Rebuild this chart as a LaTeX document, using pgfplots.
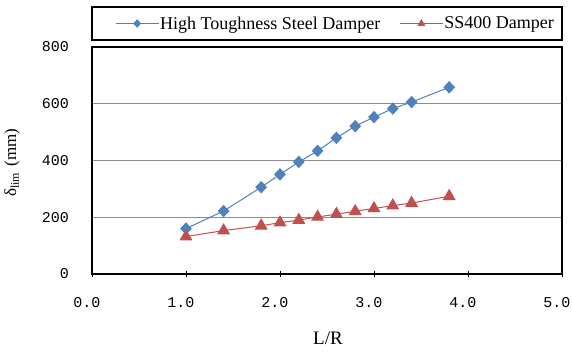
\documentclass[border=0pt]{standalone}
\usepackage{pgfplots}
\pgfplotsset{compat=1.18}
\usepackage{fontspec}
\setmainfont{Liberation Serif}
\newfontfamily\tickfont{Liberation Mono}
\definecolor{cblue}{HTML}{4F81BD}
\definecolor{cred}{HTML}{C0504D}
\begin{document}
\begin{tikzpicture}[x=1pt,y=1pt]
\path[use as bounding box] (0,0) rectangle (572,354);
\begin{axis}[
  at={(92pt,80pt)}, anchor=south west,
  scale only axis, width=470pt, height=227pt,
  xmin=0, xmax=5, ymin=0, ymax=800,
  xtick={0,1,2,3,4,5}, xticklabels={0.0,1.0,2.0,3.0,4.0,5.0},
  ytick={0,200,400,600,800}, yticklabels={0,200,400,600,800},
  xtick pos=bottom, ytick pos=left,
  ymajorgrids, grid style={black!45, line width=1pt},
  axis line style={line width=2pt},
  x tick style={black, line width=1pt}, tick align=center, major tick length=6pt,
  y tick style={draw=none},
  xticklabel style={font=\tickfont\fontsize{15}{15}\selectfont, anchor=center, yshift=-26pt, xshift=-5pt},
  yticklabel style={font=\tickfont\fontsize{15}{15}\selectfont, anchor=east, inner sep=0pt, xshift=-20pt},
  xlabel={L/R},
  xlabel style={at={(axis description cs:0.502,-0.282)}, anchor=center, font=\fontsize{19}{19}\selectfont},
  ylabel={δ\textsubscript{lim}\hspace{2pt} (mm)},
  ylabel style={at={(axis description cs:-0.170,0.49)}, anchor=center, font=\fontsize{17}{17}\selectfont},
  legend columns=2,
  legend style={at={(axis description cs:0.0489,1.1035)}, anchor=west, draw=none, fill=none, inner sep=0pt,
    font=\fontsize{18}{18}\selectfont, nodes={inner sep=1pt},
    /tikz/every even column/.append style={column sep=18pt}},
  legend image code/.code={\draw[mark repeat=2,mark phase=2,mark size=3.5pt] plot coordinates {(0pt,0pt)(21.5pt,0pt)(43pt,0pt)};},
]
\addplot[color=cblue, line width=1pt, mark=diamond*, mark size=5.5pt, mark options={xscale=1.25, fill=cblue, draw=cblue}]
coordinates {(1.0,160)(1.4,222)(1.8,306)(2.0,351)(2.2,395)(2.4,434)(2.6,480)(2.8,521)(3.0,553)(3.2,583)(3.4,606)(3.8,658)};
\addlegendentry{High Toughness Steel Damper}
\addplot[color=cred, line width=1pt, mark=triangle*, mark size=6.5pt, mark options={fill=cred, draw=cred}]
coordinates {(1.0,132)(1.4,153)(1.8,170)(2.0,181)(2.2,190)(2.4,201)(2.6,211)(2.8,221)(3.0,231)(3.2,241)(3.4,250)(3.8,274)};
\addlegendentry{SS400 Damper}
\end{axis}
\draw[line width=2pt] (92,314) rectangle (562,347);
\end{tikzpicture}
\end{document}
